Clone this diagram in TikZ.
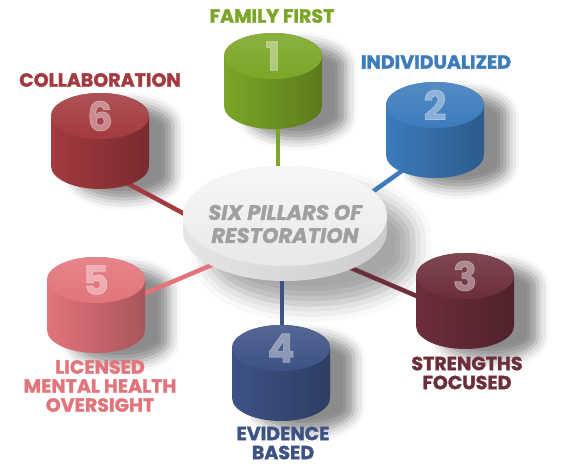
\documentclass[tikz,border=0pt]{standalone}
\usepackage{fontspec}
\setmainfont{Poppins}[BoldFeatures={FakeBold=1.6},BoldItalicFeatures={FakeBold=1.6}]
\usetikzlibrary{shapes,shadows.blur,calc}

\definecolor{famgreen}{HTML}{7BA626}
\definecolor{indblue}{HTML}{3C7BBC}
\definecolor{strmaroon}{HTML}{6C2E3A}
\definecolor{evinavy}{HTML}{3D5285}
\definecolor{licpink}{HTML}{E2747B}
\definecolor{colred}{HTML}{A33A3F}
\definecolor{hubgray}{HTML}{A0A0A0}

\pgfdeclarelayer{shade}
\pgfdeclarelayer{links}
\pgfsetlayers{shade,links,main}

% one pillar: #1 name, #2 top centre, #3 colour, #4 number
\newcommand{\pillar}[4]{
  \begin{pgfonlayer}{shade}
    \path[blur shadow={shadow xshift=24pt, shadow yshift=-10pt,
                       shadow blur radius=11pt, shadow opacity=45}]
      ($(#2)+(-49,0)$) -- ++(0,50)
      arc[start angle=180, end angle=0, x radius=49, y radius=23]
      -- ++(0,-50)
      arc[start angle=0, end angle=-180, x radius=49, y radius=23] -- cycle;
  \end{pgfonlayer}
  \path[left color=#3, middle color=#3!96!black, right color=#3!74!black]
    ($(#2)+(-49,0)$) -- ++(0,50)
    arc[start angle=180, end angle=0, x radius=49, y radius=23]
    -- ++(0,-50)
    arc[start angle=0, end angle=-180, x radius=49, y radius=23] -- cycle;
  \node [pillartop=#3] (#1) at (#2) {#4};
}

\begin{document}
\begin{tikzpicture}
  [
    x=1pt, y=-1pt,
    pillartop/.style =
      {ellipse, minimum width=98pt, minimum height=46pt, inner sep=0pt,
       top color=#1!88!white, bottom color=#1, text=white, text opacity=0.38,
       font=\fontsize{40}{40}\selectfont\bfseries},
    hubtop/.style =
      {ellipse, minimum width=204pt, minimum height=100pt, inner sep=0pt,
       top color=white!97!black, bottom color=white!91!black},
    caption/.style =
      {text=#1, align=center, inner sep=0pt,
       font=\fontsize{19}{19}\selectfont\bfseries},
    link/.style =
      {draw=#1, line width=4.5pt}
  ]
  \useasboundingbox (0,0) rectangle (568,472);

  % hub
  \begin{pgfonlayer}{shade}
    \path[blur shadow={shadow xshift=26pt, shadow yshift=-22pt,
                       shadow blur radius=18pt, shadow opacity=35}]
      (183,216) -- ++(0,16)
      arc[start angle=180, end angle=0, x radius=102, y radius=50]
      -- ++(0,-16)
      arc[start angle=0, end angle=-180, x radius=102, y radius=50] -- cycle;
  \end{pgfonlayer}
  \path[left color=white!90!black, middle color=white!87!black, right color=white!80!black]
    (183,216) -- ++(0,15)
    arc[start angle=180, end angle=0, x radius=102, y radius=50]
    -- ++(0,-15)
    arc[start angle=0, end angle=-180, x radius=102, y radius=50] -- cycle;
  \node [hubtop] (hub) at (285,216) {};
  \node [text=hubgray, align=center, inner sep=0pt,
         font=\fontsize{21}{23}\selectfont\bfseries\itshape]
    (hubtitle) at (285,224) {SIX PILLARS OF\\RESTORATION};

  % pillars
  \pillar{p1}{273,56}{famgreen}{1}
  \pillar{p2}{435,105}{indblue}{2}
  \pillar{p3}{465,276}{strmaroon}{3}
  \pillar{p4}{281,348}{evinavy}{4}
  \pillar{p5}{96,280}{licpink}{5}
  \pillar{p6}{100,116}{colred}{6}

  % captions
  \node [caption=famgreen]  (c1) at (272,16)  {FAMILY FIRST};
  \node [caption=indblue]   (c2) at (436,62)  {INDIVIDUALIZED};
  \node [caption=strmaroon] (c3) at (467,373) {STRENGTHS\\FOCUSED};
  \node [caption=evinavy]   (c4) at (283,443) {EVIDENCE\\BASED};
  \node [caption=licpink]   (c5) at (100,386) {LICENSED\\MENTAL HEALTH\\OVERSIGHT};
  \node [caption=colred]    (c6) at (100,80)  {COLLABORATION};

  % links
  \begin{pgfonlayer}{links}
    \draw[link=famgreen]  ($(p1)+(5,60)$)   -- ($(hub)+(-7,-20)$);
    \draw[link=indblue]   ($(p2)+(-15,53)$) -- ($(hub)+(55,-1)$);
    \draw[link=strmaroon] ($(p3)+(-25,30)$) -- ($(hub)+(45,43)$);
    \draw[link=evinavy]   ($(p4)+(1,20)$)   -- ($(hub)+(-3,40)$);
    \draw[link=licpink]   ($(p5)+(24,24)$)  -- ($(hub)+(-45,37)$);
    \draw[link=colred]    ($(p6)+(10,58)$)  -- ($(hub)+(-65,17)$);
  \end{pgfonlayer}

\end{tikzpicture}
\end{document}
